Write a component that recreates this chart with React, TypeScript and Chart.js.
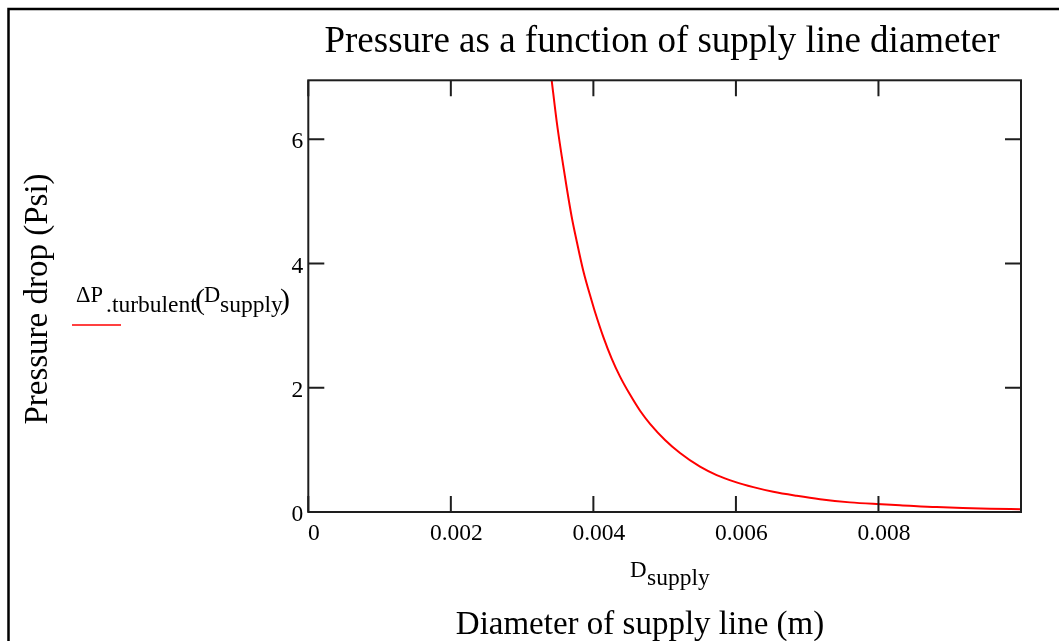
import React, { useEffect, useRef } from 'react';
import { Chart, registerables } from 'chart.js';

Chart.register(...registerables);

// ---- data ----
const diameters = [
  0.003415, 0.003485, 0.003556, 0.003626, 0.003696, 0.003766, 0.003859, 0.003976,
  0.004023, 0.004139, 0.004257, 0.004374, 0.004514, 0.004655, 0.004795, 0.005005,
  0.005216, 0.005496, 0.00573, 0.005987, 0.006244, 0.006524, 0.006853, 0.00718,
  0.007601, 0.007975, 0.008302, 0.008817, 0.009565, 0.01,
];
const pressureDrops = [
  6.95, 6.29, 5.73, 5.22, 4.75, 4.36, 3.88, 3.4,
  3.22, 2.82, 2.47, 2.18, 1.89, 1.63, 1.42, 1.16,
  0.95, 0.73, 0.595, 0.485, 0.4, 0.325, 0.26, 0.205,
  0.155, 0.128, 0.11, 0.08, 0.053, 0.046,
];
const xTickValues = [0, 0.002, 0.004, 0.006, 0.008];
const xTickLabels = ['0', '0.002', '0.004', '0.006', '0.008'];
const yTickValues = [0, 2, 4, 6];
const yTickLabels = ['0', '2', '4', '6'];
const xMin = 0;
const xMax = 0.01;
const yMin = 0;
const yMax = 6.95;

const chartTitle = 'Pressure as a function of supply line diameter';
const yAxisTitle = 'Pressure drop (Psi)';
const xAxisTitle = 'Diameter of supply line (m)';
const xVarMain = 'D';
const xVarSub = 'supply';
const legendMain = 'ΔP';
const legendSub = '.turbulent';

const SERIF = '"Liberation Serif", "Times New Roman", serif';
const LINE_RED = '#ff0000';

const decorPlugin = {
  id: 'decor',
  afterDraw(chart: any) {
    const { ctx, chartArea: a, scales } = chart;
    const x = scales.x;
    const y = scales.y;
    ctx.save();

    // outer frame (left and top edges visible)
    ctx.strokeStyle = '#000';
    ctx.lineWidth = 2.5;
    ctx.beginPath();
    ctx.moveTo(8.5, 641);
    ctx.lineTo(8.5, 9);
    ctx.lineTo(1059, 9);
    ctx.stroke();

    // plot box
    ctx.strokeStyle = '#1e1e1e';
    ctx.lineWidth = 2;
    ctx.strokeRect(a.left, a.top, a.right - a.left, a.bottom - a.top);

    // inward ticks on all four sides
    const tl = 16;
    ctx.beginPath();
    xTickValues.forEach((v) => {
      const px = x.getPixelForValue(v);
      ctx.moveTo(px, a.bottom);
      ctx.lineTo(px, a.bottom - tl);
      ctx.moveTo(px, a.top);
      ctx.lineTo(px, a.top + tl);
    });
    yTickValues.forEach((v) => {
      const py = y.getPixelForValue(v);
      ctx.moveTo(a.left, py);
      ctx.lineTo(a.left + tl, py);
      ctx.moveTo(a.right, py);
      ctx.lineTo(a.right - tl, py);
    });
    ctx.stroke();

    ctx.fillStyle = '#000';
    ctx.textBaseline = 'alphabetic';

    // title
    ctx.font = `37px ${SERIF}`;
    ctx.textAlign = 'center';
    ctx.fillText(chartTitle, 662, 52);

    // x axis title
    ctx.font = `33px ${SERIF}`;
    ctx.fillText(xAxisTitle, 640, 634);

    // y axis title (rotated)
    ctx.save();
    ctx.translate(47, 299);
    ctx.rotate(-Math.PI / 2);
    ctx.textAlign = 'center';
    ctx.font = `33px ${SERIF}`;
    ctx.fillText(yAxisTitle, 0, 0);
    ctx.restore();

    // x variable label D_supply
    ctx.textAlign = 'left';
    ctx.font = `23px ${SERIF}`;
    ctx.fillText(xVarMain, 630, 577);
    ctx.font = `23.5px ${SERIF}`;
    ctx.fillText(xVarSub, 647, 585);

    // legend: ΔP.turbulent(D_supply)
    ctx.font = `22.5px ${SERIF}`;
    ctx.fillText(legendMain, 76, 302);
    ctx.font = `23.5px ${SERIF}`;
    ctx.fillText(legendSub, 106, 312);
    ctx.font = `30px ${SERIF}`;
    ctx.fillText('(', 195, 309);
    ctx.font = `22.5px ${SERIF}`;
    ctx.fillText(xVarMain, 204, 302);
    ctx.font = `23.5px ${SERIF}`;
    ctx.fillText(xVarSub, 220, 312);
    ctx.font = `30px ${SERIF}`;
    ctx.fillText(')', 280, 309);

    // legend line sample
    ctx.strokeStyle = LINE_RED;
    ctx.lineWidth = 1.5;
    ctx.beginPath();
    ctx.moveTo(72, 325);
    ctx.lineTo(121, 325);
    ctx.stroke();

    ctx.restore();
  },
};

export default function App() {
  const canvasRef = useRef<HTMLCanvasElement | null>(null);

  useEffect(() => {
    const canvas = canvasRef.current;
    if (!canvas) return;
    const points = diameters.map((d, i) => ({ x: d, y: pressureDrops[i] }));
    const chart = new Chart(canvas, {
      type: 'line',
      data: {
        datasets: [
          {
            label: 'ΔP.turbulent(Dsupply)',
            data: points,
            borderColor: LINE_RED,
            backgroundColor: LINE_RED,
            borderWidth: 2,
            pointRadius: 0,
            fill: false,
            cubicInterpolationMode: 'monotone',
          },
        ],
      },
      options: {
        responsive: false,
        animation: false,
        devicePixelRatio: 1,
        layout: { padding: { left: 0, top: 80.3, right: 38, bottom: 0 } },
        plugins: {
          legend: { display: false },
          title: { display: false },
          tooltip: { enabled: false },
        },
        scales: {
          x: {
            type: 'linear',
            min: xMin,
            max: xMax,
            grid: { display: false, drawTicks: false },
            border: { display: false },
            afterBuildTicks: (scale: any) => {
              scale.ticks = xTickValues.map((v) => ({ value: v }));
            },
            afterFit: (scale: any) => {
              scale.height = 129;
            },
            ticks: {
              padding: 8,
              labelOffset: 5.5,
              maxRotation: 0,
              autoSkip: false,
              color: '#000',
              font: { family: SERIF, size: 23.5 },
              callback: (value: any) => {
                const i = xTickValues.indexOf(Number(value));
                return i >= 0 ? xTickLabels[i] : '';
              },
            },
          },
          y: {
            type: 'linear',
            min: yMin,
            max: yMax,
            grid: { display: false, drawTicks: false },
            border: { display: false },
            afterBuildTicks: (scale: any) => {
              scale.ticks = yTickValues.map((v) => ({ value: v }));
            },
            afterFit: (scale: any) => {
              scale.width = 308.3;
            },
            ticks: {
              padding: 5,
              labelOffset: 3,
              autoSkip: false,
              color: '#000',
              font: { family: SERIF, size: 23.5 },
              callback: (value: any) => {
                const i = yTickValues.indexOf(Number(value));
                return i >= 0 ? yTickLabels[i] : '';
              },
            },
          },
        },
      },
      plugins: [decorPlugin],
    } as any);
    return () => chart.destroy();
  }, []);

  return (
    <div style={{ position: 'absolute', left: 0, top: 0, width: 1059, height: 641, background: '#fff' }}>
      <canvas ref={canvasRef} width={1059} height={641} style={{ display: 'block' }} />
    </div>
  );
}
